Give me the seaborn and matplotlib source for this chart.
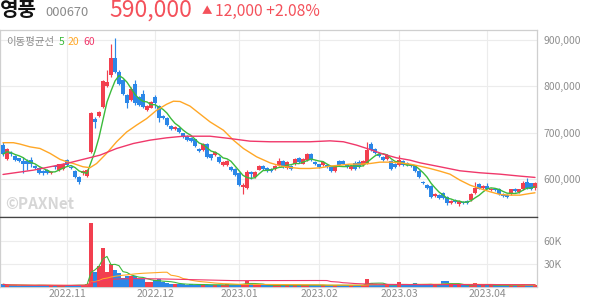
import numpy as np
import pandas as pd
import matplotlib
matplotlib.use("Agg")
import matplotlib.pyplot as plt
from matplotlib.ticker import FixedLocator, FuncFormatter
import seaborn as sns

# ---------------- data (prices in thousand won, volume in thousand shares) -------------
opens = [673, 642, 656, 649, 644, 638, 638, 640, 628, 623, 617, 620, 612, 627, 619, 622, 640, 626, 617, 604,
         612, 607, 658, 730, 735, 755, 800, 824, 860, 831, 813, 782, 770, 804, 777, 784, 748, 754, 777, 757,
         735, 732, 714, 707, 709, 698, 692, 688, 685, 665, 662, 675, 653, 651, 648, 630, 630, 626, 621, 612,
         583, 581, 615, 604, 620, 627, 623, 621, 621, 629, 638, 624, 627, 632, 646, 633, 640, 653, 637, 631,
         630, 630, 626, 617, 638, 638, 630, 622, 635, 637, 630, 633, 676, 665, 653, 647, 642, 638, 633, 629,
         638, 635, 631, 627, 617, 594, 586, 584, 563, 565, 570, 560, 547, 555, 545, 550, 552, 554, 570, 588,
         581, 584, 576, 579, 579, 568, 565, 567, 579, 572, 577, 594, 590, 580]
highs = [680, 666, 660, 652, 646, 647, 642, 647, 630, 625, 619, 622, 617, 629, 633, 635, 643, 628, 619, 606,
         619, 622, 745, 733, 747, 813, 835, 892, 905, 834, 815, 784, 798, 813, 779, 791, 759, 768, 781, 759,
         737, 734, 716, 714, 711, 700, 694, 690, 687, 667, 677, 677, 654, 660, 650, 639, 640, 628, 623, 614,
         590, 618, 617, 617, 629, 629, 625, 623, 630, 644, 640, 639, 629, 644, 648, 644, 656, 655, 639, 633,
         638, 632, 628, 628, 641, 640, 632, 629, 638, 641, 641, 680, 680, 667, 655, 649, 653, 640, 635, 652,
         640, 637, 633, 629, 619, 596, 588, 586, 569, 567, 572, 562, 554, 557, 554, 552, 554, 569, 594, 590,
         586, 590, 581, 581, 581, 570, 567, 579, 581, 579, 596, 601, 592, 594]
lows = [650, 640, 650, 638, 636, 612, 619, 626, 622, 610, 608, 610, 610, 622, 617, 620, 628, 622, 602, 588,
        608, 604, 655, 709, 733, 753, 798, 820, 828, 802, 782, 754, 767, 759, 757, 752, 746, 752, 754, 723,
        730, 714, 705, 705, 699, 689, 681, 680, 669, 658, 660, 646, 640, 649, 635, 628, 628, 617, 606, 584,
        568, 579, 599, 602, 618, 620, 615, 615, 619, 627, 624, 622, 620, 630, 635, 631, 638, 638, 629, 624,
        628, 624, 615, 615, 628, 631, 624, 620, 620, 624, 628, 632, 660, 654, 647, 638, 640, 620, 624, 627,
        627, 627, 625, 615, 602, 588, 579, 559, 561, 556, 556, 543, 545, 548, 541, 545, 545, 552, 568, 577,
        579, 577, 574, 574, 565, 561, 558, 565, 572, 570, 575, 579, 576, 576]
closes = [653, 664, 653, 640, 639, 633, 633, 632, 624, 612, 612, 612, 614, 625, 631, 633, 630, 624, 604, 594,
          617, 620, 742, 723, 745, 811, 809, 860, 831, 804, 784, 764, 795, 764, 759, 755, 757, 766, 763, 732,
          732, 716, 707, 712, 701, 691, 683, 682, 671, 660, 675, 648, 646, 658, 637, 637, 638, 619, 608, 586,
          586, 615, 610, 615, 627, 622, 617, 617, 628, 639, 626, 637, 622, 642, 637, 642, 653, 640, 631, 626,
          636, 626, 617, 626, 630, 633, 626, 627, 622, 626, 639, 663, 663, 656, 649, 640, 651, 622, 626, 640,
          629, 629, 627, 617, 604, 590, 581, 561, 567, 558, 558, 547, 552, 550, 552, 547, 547, 567, 581, 579,
          584, 579, 579, 576, 567, 563, 560, 577, 574, 577, 590, 581, 578, 590]
volumes = [3.5, 2.5, 2.0, 2.2, 1.8, 2.6, 2.0, 2.4, 1.6, 2.8, 2.0, 1.8, 1.5, 1.4, 2.2, 2.0, 2.4, 1.6, 2.6, 3.0,
           2.0, 4.5, 83.5, 19.6, 27.0, 51.0, 19.6, 29.6, 21.7, 18.3, 11.7, 14.0, 14.0, 14.0, 11.0, 10.0, 6.5, 6.5, 8.7, 10.0,
           6.5, 5.2, 4.3, 4.3, 3.5, 3.5, 3.0, 3.5, 3.0, 2.8, 3.5, 3.0, 2.5, 2.8, 3.0, 2.5, 3.5, 2.8, 3.2, 4.0,
           4.5, 7.8, 3.5, 3.0, 2.6, 2.4, 2.2, 2.0, 2.6, 3.0, 2.4, 2.6, 2.0, 2.8, 2.4, 2.2, 3.2, 2.6, 2.2, 2.0,
           2.4, 2.0, 2.2, 2.4, 2.6, 2.2, 2.0, 2.0, 2.4, 2.2, 2.8, 10.9, 5.7, 3.5, 2.6, 2.4, 2.8, 3.0, 2.4, 6.0,
           2.6, 2.4, 2.2, 5.7, 3.5, 2.8, 2.6, 3.2, 2.6, 2.4, 7.4, 7.4, 2.8, 2.4, 2.6, 2.2, 2.0, 3.0, 5.7, 2.6,
           2.4, 2.2, 2.0, 2.0, 2.4, 2.2, 2.0, 2.6, 2.2, 2.0, 4.3, 2.6, 2.2, 3.0]

ma20_idx = [0, 2.6, 4.25, 6.75, 9.25, 11.75, 14.25, 15.9, 17.6, 20, 21.75, 23.4, 25.9, 28.4, 30.9, 33.4, 35.9,
            38.4, 40.9, 42.6, 44.25, 46.75, 49.25, 51.75, 55.1, 57.6, 60.1, 63.4, 66.75, 69.25, 71.75, 74.25,
            76.75, 79.25, 81.75, 84.25, 86.75, 89.25, 91.75, 94.25, 96.75, 99.25, 101.75, 104.25, 106.75,
            109.25, 111.75, 114.25, 116.75, 119.25, 121.75, 124.25, 126.75, 129.25, 131.75, 133]
ma20_vals = [678, 678, 675, 669, 665.5, 655, 642, 637, 633, 626, 624, 633, 655, 680, 701, 716, 730,
             748, 761, 767.6, 767, 757, 740, 723, 705, 683.5, 665.5, 647.5, 634.5, 628, 624.5, 622.3,
             622.3, 623.7, 627.3, 629.5, 631.7, 631.7, 633, 636, 636, 634.5, 631.7, 627.3, 622.3,
             616.5, 610, 597, 586.3, 579, 572, 566.2, 564.7, 564.7, 568.3, 569.8]
ma60_idx = [0, 7.6, 15.9, 20.9, 24.25, 28.4, 32.6, 36.75, 40.9, 45.1, 49.25, 51.75, 56.75, 61.75, 66.75,
            71.75, 76.75, 81.75, 85.1, 88.4, 91.75, 95.1, 98.4, 101.75, 104.25, 109.25, 114.25, 119.25,
            124.25, 129.25, 133]
ma60_vals = [609.4, 618.7, 633.1, 643.9, 651.1, 665.5, 676.3, 683.5, 688.5, 692, 692, 692, 687, 681.3, 680,
             680, 680, 682, 680, 672.7, 663.3, 653.2, 645.3, 640.3, 634.5, 626, 617.3, 613,
             610, 605.8, 603]

month_ticks = [16, 38, 59, 79, 99, 121]
month_labels = ["2022.11", "2022.12", "2023.01", "2023.02", "2023.03", "2023.04"]
price_ticks = [600, 700, 800, 900]
vol_ticks = [30, 60]

# ---------------- style ----------------
RED = "#f23f4f"
BLUE = "#2b87e8"
GREEN = "#3cba3c"
ORANGE = "#ffa726"
PINK = "#f0386a"
TITLE_RED = "#f4515b"
GRID = "#ececec"
TICK = "#8e8e8e"

sns.set_theme(style="white")
plt.rcParams['font.family'] = ['Noto Sans CJK KR', 'DejaVu Sans']

W, H = 594, 304
fig = plt.figure(figsize=(W / 100, H / 100), dpi=100)


def box(x0, y0, x1, y1):
    return [x0 / W, 1 - y1 / H, (x1 - x0) / W, (y1 - y0) / H]


axp = fig.add_axes(box(0, 30, 537, 217))
axv = fig.add_axes(box(0, 217, 537, 287))

idx = np.arange(len(closes))
o = np.array(opens, dtype=float)
c = np.array(closes, dtype=float)
colors = np.where(c >= o, RED, BLUE)

# candles
axp.vlines(idx, lows, highs, colors=colors, linewidth=0.85, zorder=3)
axp.bar(idx, np.maximum(np.abs(c - o), 0.9), bottom=np.minimum(o, c), width=0.8,
        color=colors, linewidth=0, zorder=4)

ma5 = pd.Series(closes, dtype=float).rolling(5, min_periods=1).mean()
sns.lineplot(x=idx, y=ma5.values, ax=axp, color=GREEN, linewidth=1.0, sort=False, estimator=None, zorder=5)
sns.lineplot(x=ma20_idx, y=ma20_vals, ax=axp, color=ORANGE, linewidth=1.0, sort=False, estimator=None, zorder=5)
sns.lineplot(x=ma60_idx, y=ma60_vals, ax=axp, color=PINK, linewidth=1.0, sort=False, estimator=None, zorder=5)

# volume
axv.bar(idx, volumes, width=0.8, color=colors, linewidth=0, zorder=3)
vs = pd.Series(volumes, dtype=float)
sns.lineplot(x=idx, y=vs.rolling(5, min_periods=1).mean().values, ax=axv, color=GREEN, linewidth=0.8,
             sort=False, estimator=None, zorder=4)
sns.lineplot(x=idx, y=vs.rolling(20, min_periods=1).mean().values, ax=axv, color=ORANGE, linewidth=0.8,
             sort=False, estimator=None, zorder=4)
sns.lineplot(x=idx, y=vs.rolling(60, min_periods=1).mean().values, ax=axv, color=PINK, linewidth=0.8,
             sort=False, estimator=None, zorder=4)

for ax in (axp, axv):
    ax.set_xlim(-0.75, 133.5)
    ax.set_xlabel("")
    ax.set_ylabel("")
    ax.xaxis.set_major_locator(FixedLocator(month_ticks))
    ax.grid(True, color=GRID, linewidth=0.8)
    ax.set_axisbelow(True)
    ax.yaxis.tick_right()
    ax.tick_params(axis='y', length=0, pad=4.5, labelsize=7.5, labelcolor=TICK)
    ax.tick_params(axis='x', length=0)
    for s in ("top", "right", "left", "bottom"):
        ax.spines[s].set_color("#cfcfcf")
        ax.spines[s].set_linewidth(0.9)
    if ax.get_legend():
        ax.get_legend().remove()

axp.set_ylim(517.5, 921.4)
axp.yaxis.set_major_locator(FixedLocator(price_ticks))
axp.yaxis.set_major_formatter(FuncFormatter(lambda v, p: f"{int(round(v * 1000)):,}"))
axp.set_xticklabels([])
axp.spines["bottom"].set_color("#444444")

axv.set_ylim(0, 92)
axv.yaxis.set_major_locator(FixedLocator(vol_ticks))
axv.yaxis.set_major_formatter(FuncFormatter(lambda v, p: f"{int(v)}K"))
axv.set_xticklabels(month_labels)
axv.tick_params(axis='x', pad=1.5, labelsize=7.5, labelcolor=TICK)
axv.spines["top"].set_color("#444444")

# header
def ftext(x, y, s, **kw):
    fig.text(x / W, 1 - y / H, s, va="center", ha="left", **kw)

ftext(0, 10, "영풍", fontsize=14.5, fontweight="bold", color="#111111")
ftext(45, 12, "000670", fontsize=9.3, color="#8a8a8a")
ftext(109, 10, "590,000", fontsize=16.5, color=TITLE_RED)
ftext(202, 11, "▲", fontsize=7.5, color=TITLE_RED)
ftext(215, 11.5, "12,000 +2.08%", fontsize=11.3, color=TITLE_RED)

ftext(6, 42, "이동평균선", fontsize=7.5, color="#8a8a8a")
ftext(59, 42, "5", fontsize=7.5, color=GREEN)
ftext(68, 42, "20", fontsize=7.5, color=ORANGE)
ftext(83, 42, "60", fontsize=7.5, color=PINK)

ftext(5, 204, "©PAXNet", fontsize=11, fontweight="bold", color="#d6d6d6")

fig.savefig("out.png", dpi=100)
